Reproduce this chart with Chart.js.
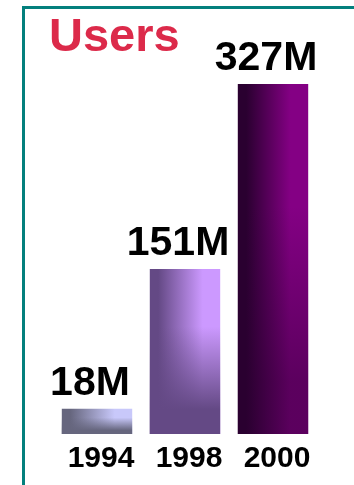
<!DOCTYPE html>
<html>
<head>
<meta charset="utf-8">
<script src="https://cdn.jsdelivr.net/npm/chart.js@4"></script>
<style>
  html, body { margin: 0; padding: 0; background: #fff; }
  #wrap { position: relative; width: 354px; height: 485px; overflow: hidden; }
  #frame { position: absolute; left: 22px; top: 6px; width: 400px; height: 500px;
           border-left: 3px solid #03807d; border-top: 3px solid #03807d; }
  canvas { position: absolute; left: 0; top: 0; }
</style>
</head>
<body>
<div id="wrap">
  <div id="frame"></div>
  <canvas id="myChart" width="354" height="485"></canvas>
</div>
<script>
const years = ["1994", "1998", "2000"];
const users = [18, 151, 327];
const darkColors = ["#66667e", "#644985", "#2a0030"];
const lightColors = ["#c8c8fa", "#cc99ff", "#840084"];
const shadeAlpha = [1, 1, 0.45];

Chart.defaults.font.family = "'Liberation Sans', Arial, sans-serif";

function barHalf(chart) {
  const xs = chart.scales.x;
  return xs.width / years.length * 0.8 / 2;
}

// dark left -> light right
function sideFill(context) {
  const chart = context.chart;
  const { ctx, chartArea } = chart;
  const i = context.dataIndex;
  if (!chartArea) return lightColors[i];
  const xc = chart.scales.x.getPixelForValue(i);
  const h = barHalf(chart);
  const g = ctx.createLinearGradient(xc - h, 0, xc + h, 0);
  g.addColorStop(0, darkColors[i]);
  g.addColorStop(0.12, darkColors[i]);
  g.addColorStop(0.75, lightColors[i]);
  g.addColorStop(1, lightColors[i]);
  return g;
}

// darker towards the bottom, drawn over the side fill
function bottomShade(context) {
  const chart = context.chart;
  const { ctx, chartArea } = chart;
  const i = context.dataIndex;
  if (!chartArea) return "rgba(0,0,0,0)";
  const ys = chart.scales.y;
  const top = ys.getPixelForValue(users[i]);
  const base = ys.getPixelForValue(ys.min);
  const g = ctx.createLinearGradient(0, top, 0, base);
  const c = Chart.helpers.color(darkColors[i]);
  g.addColorStop(0, c.alpha(0).rgbString());
  g.addColorStop(0.35, c.alpha(0).rgbString());
  g.addColorStop(0.85, c.alpha(shadeAlpha[i]).rgbString());
  g.addColorStop(1, c.alpha(shadeAlpha[i]).rgbString());
  return g;
}

const valueLabels = {
  id: "valueLabels",
  afterDatasetsDraw(chart) {
    const { ctx } = chart;
    const meta = chart.getDatasetMeta(0);
    ctx.save();
    ctx.font = "bold 41px 'Liberation Sans', Arial, sans-serif";
    ctx.fillStyle = "#000";
    ctx.textAlign = "center";
    ctx.textBaseline = "alphabetic";
    meta.data.forEach((bar, i) => {
      ctx.fillText(users[i] + "M", bar.x - 7, bar.y - 14);
    });
    ctx.restore();
  }
};

const ctx = document.getElementById("myChart");

const myChart = new Chart(ctx, {
  type: "bar",
  plugins: [valueLabels],
  data: {
    labels: years,
    datasets: [
      {
        label: "Users",
        data: users,
        backgroundColor: sideFill,
        order: 2,
      },
      {
        label: "shade",
        data: users,
        backgroundColor: bottomShade,
        order: 1,
      },
    ],
  },
  options: {
    responsive: false,
    animation: false,
    layout: {
      padding: { left: 49, right: 37, top: 0, bottom: 1 },
    },
    plugins: {
      title: {
        display: true,
        text: "Users",
        color: "#dc2a4a",
        align: "start",
        font: { size: 47, weight: "bold", lineHeight: 1 },
        padding: { top: 15, bottom: 22 },
      },
      legend: { display: false },
      tooltip: { enabled: false },
    },
    scales: {
      x: {
        grid: { display: false, drawTicks: false },
        border: { display: false },
        ticks: {
          color: "#000",
          padding: 10,
          labelOffset: 4,
          font: { size: 30, weight: "bold", lineHeight: 1 },
        },
      },
      y: {
        min: -6,
        max: 327,
        display: true,
        grid: { display: false, drawTicks: false },
        border: { display: false },
        ticks: { display: false },
        afterFit: (scale) => { scale.width = 4; },
      },
    },
    datasets: {
      bar: {
        grouped: false,
        base: -6,
        borderWidth: 0,
        barPercentage: 0.8,
        categoryPercentage: 1,
      },
    },
  },
});
</script>
</body>
</html>
